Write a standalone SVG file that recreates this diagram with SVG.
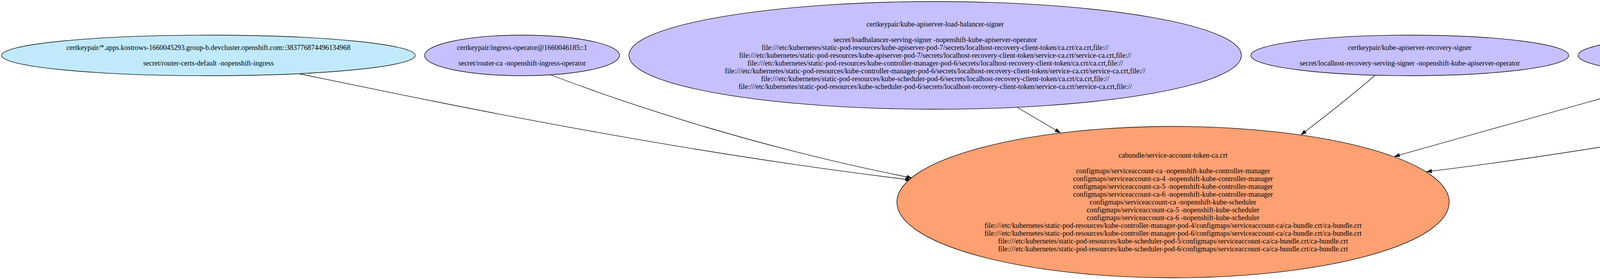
<svg xmlns="http://www.w3.org/2000/svg" width="6267" height="715" viewBox="0 0 6267 715">
<defs>
<style>
text{font-family:"Liberation Serif","Times New Roman",serif;font-size:18.3px;fill:#000;text-anchor:middle}
.n ellipse{stroke:#000;stroke-width:1.33}
.blue{fill:#c0eafc}
.purple{fill:#c6c0fe}
.salmon{fill:#fda072}
.edges path{fill:none;stroke:#000;stroke-width:1.33}
</style>
<marker id="arr" viewBox="0 0 14 10" refX="13.3" refY="5" markerWidth="14" markerHeight="10" markerUnits="userSpaceOnUse" orient="auto">
<path d="M0,0.3 L13.3,5 L0,9.7 Z" fill="#000" stroke="#000" stroke-width="1"/>
</marker>
</defs>
<rect width="6267" height="715" fill="#fff"/>
<g class="edges" id="connectors">
<path d="M766,189 C1100,258 1700,385 2331,461" marker-end="url(#arr)"/>
<path d="M1410,192 C1620,272 1950,380 2334,456" marker-end="url(#arr)"/>
<path d="M2604,275 C2640,296 2680,320 2714,340" marker-end="url(#arr)"/>
<path d="M3520,193 C3460,245 3390,300 3331,345" marker-end="url(#arr)"/>
<path d="M4310,191 C4080,260 3800,335 3570,401" marker-end="url(#arr)"/>
<path d="M5080,200 C4650,280 4150,380 3652,440" marker-end="url(#arr)"/>
</g>
<g class="n" id="node-ingress-wildcard">
<ellipse class="blue" cx="533.5" cy="142" rx="529.5" ry="52"/>
<text x="533.5" y="128">certkeypair/*.apps.kostrows-1660045293.group-b.devcluster.openshift.com::383776874496134968</text>
<text x="533.5" y="168">secret/router-certs-default -nopenshift-ingress</text>
</g>
<g class="n" id="node-ingress-operator">
<ellipse class="purple" cx="1336.5" cy="142" rx="249.5" ry="52"/>
<text x="1336.5" y="128">certkeypair/ingress-operator@1660046185::1</text>
<text x="1336.5" y="168">secret/router-ca -nopenshift-ingress-operator</text>
</g>
<g class="n" id="node-load-balancer-signer">
<ellipse class="purple" cx="2394" cy="142" rx="784" ry="138"/>
<text x="2394" y="68">certkeypair/kube-apiserver-load-balancer-signer</text>
<text x="2394" y="108">secret/loadbalancer-serving-signer -nopenshift-kube-apiserver-operator</text>
<text x="2394" y="128">file:///etc/kubernetes/static-pod-resources/kube-apiserver-pod-7/secrets/localhost-recovery-client-token/ca.crt/ca.crt,file://</text>
<text x="2394" y="148">file:///etc/kubernetes/static-pod-resources/kube-apiserver-pod-7/secrets/localhost-recovery-client-token/service-ca.crt/service-ca.crt,file://</text>
<text x="2394" y="168">file:///etc/kubernetes/static-pod-resources/kube-controller-manager-pod-6/secrets/localhost-recovery-client-token/ca.crt/ca.crt,file://</text>
<text x="2394" y="188">file:///etc/kubernetes/static-pod-resources/kube-controller-manager-pod-6/secrets/localhost-recovery-client-token/service-ca.crt/service-ca.crt,file://</text>
<text x="2394" y="208">file:///etc/kubernetes/static-pod-resources/kube-scheduler-pod-6/secrets/localhost-recovery-client-token/ca.crt/ca.crt,file://</text>
<text x="2394" y="228">file:///etc/kubernetes/static-pod-resources/kube-scheduler-pod-6/secrets/localhost-recovery-client-token/service-ca.crt/service-ca.crt,file://</text>
</g>
<g class="n" id="node-recovery-signer">
<ellipse class="purple" cx="3609" cy="142" rx="407" ry="52"/>
<text x="3609" y="128">certkeypair/kube-apiserver-recovery-signer</text>
<text x="3609" y="168">secret/localhost-recovery-serving-signer -nopenshift-kube-apiserver-operator</text>
</g>
<g class="n" id="node-service-network-signer">
<ellipse class="purple" cx="4437" cy="142" rx="397" ry="52"/>
<text x="4437" y="128">certkeypair/kube-apiserver-service-network-signer</text>
<text x="4437" y="168">secret/service-network-serving-signer -nopenshift-kube-apiserver-operator</text>
</g>
<g class="n" id="node-localhost-signer">
<ellipse class="purple" cx="5560.5" cy="142" rx="702.5" ry="79"/>
<text x="5560.5" y="108">certkeypair/kube-apiserver-localhost-signer</text>
<text x="5560.5" y="148">secret/localhost-serving-signer -nopenshift-kube-apiserver-operator</text>
<text x="5560.5" y="168">file:///etc/kubernetes/static-pod-resources/kube-controller-manager-pod-4/secrets/localhost-recovery-client-token/ca.crt/ca.crt,file://</text>
<text x="5560.5" y="188">file:///etc/kubernetes/static-pod-resources/kube-scheduler-pod-5/secrets/localhost-recovery-client-token/ca.crt/ca.crt,file://</text>
</g>
<g class="n" id="node-service-account-token-ca">
<ellipse class="salmon" cx="3003" cy="518" rx="707" ry="194"/>
<text x="3003" y="404">cabundle/service-account-token-ca.crt</text>
<text x="3003" y="444">configmaps/serviceaccount-ca -nopenshift-kube-controller-manager</text>
<text x="3003" y="464">configmaps/serviceaccount-ca-4 -nopenshift-kube-controller-manager</text>
<text x="3003" y="484">configmaps/serviceaccount-ca-5 -nopenshift-kube-controller-manager</text>
<text x="3003" y="504">configmaps/serviceaccount-ca-6 -nopenshift-kube-controller-manager</text>
<text x="3003" y="524">configmaps/serviceaccount-ca -nopenshift-kube-scheduler</text>
<text x="3003" y="544">configmaps/serviceaccount-ca-5 -nopenshift-kube-scheduler</text>
<text x="3003" y="564">configmaps/serviceaccount-ca-6 -nopenshift-kube-scheduler</text>
<text x="3003" y="584">file:///etc/kubernetes/static-pod-resources/kube-controller-manager-pod-4/configmaps/serviceaccount-ca/ca-bundle.crt/ca-bundle.crt</text>
<text x="3003" y="604">file:///etc/kubernetes/static-pod-resources/kube-controller-manager-pod-6/configmaps/serviceaccount-ca/ca-bundle.crt/ca-bundle.crt</text>
<text x="3003" y="624">file:///etc/kubernetes/static-pod-resources/kube-scheduler-pod-5/configmaps/serviceaccount-ca/ca-bundle.crt/ca-bundle.crt</text>
<text x="3003" y="644">file:///etc/kubernetes/static-pod-resources/kube-scheduler-pod-6/configmaps/serviceaccount-ca/ca-bundle.crt/ca-bundle.crt</text>
</g>
</svg>
